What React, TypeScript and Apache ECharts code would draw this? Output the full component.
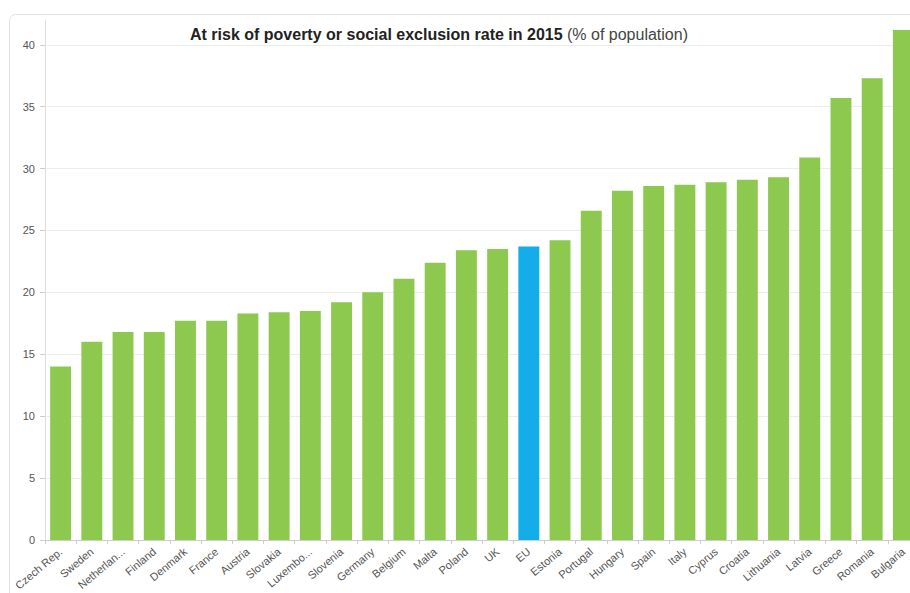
import React, { useEffect, useRef } from "react";
import * as echarts from "echarts";

const categories = [
  "Czech Rep.", "Sweden", "Netherlan...", "Finland", "Denmark", "France", "Austria",
  "Slovakia", "Luxembo...", "Slovenia", "Germany", "Belgium", "Malta", "Poland", "UK",
  "EU", "Estonia", "Portugal", "Hungary", "Spain", "Italy", "Cyprus", "Croatia",
  "Lithuania", "Latvia", "Greece", "Romania", "Bulgaria",
];
const values = [
  14.0, 16.0, 16.8, 16.8, 17.7, 17.7, 18.3, 18.4, 18.5, 19.2, 20.0, 21.1, 22.4, 23.4,
  23.5, 23.7, 24.2, 26.6, 28.2, 28.6, 28.7, 28.9, 29.1, 29.3, 30.9, 35.7, 37.3, 41.2,
];
const highlighted = "EU";
const titleBold = "At risk of poverty or social exclusion rate in 2015";
const titleNormal = " (% of population)";

export default function App() {
  const ref = useRef<HTMLDivElement>(null);
  useEffect(() => {
    if (!ref.current) return;
    const chart = echarts.init(ref.current, null, { renderer: "svg" });
    const font = "Liberation Sans, Arial, sans-serif";
    chart.setOption({
      animation: false,
      backgroundColor: "#ffffff",
      textStyle: { fontFamily: font },
      graphic: [
        {
          type: "rect",
          left: 7,
          top: 12,
          shape: { width: 960, height: 620, r: 6 },
          style: { fill: "none", stroke: "#e2e2e2", lineWidth: 1 },
          silent: true,
          z: -1,
        },
      ],
      title: {
        text: "{b|" + titleBold + "}{n|" + titleNormal + "}",
        left: 185,
        top: 21,
        textStyle: {
          rich: {
            b: { fontSize: 16, fontWeight: "bold", color: "#222", fontFamily: font },
            n: { fontSize: 16, fontWeight: "normal", color: "#444", fontFamily: font },
          },
        },
      },
      grid: { left: 45, top: 20, width: 874, height: 524, containLabel: false },
      xAxis: {
        type: "category",
        data: categories,
        axisLine: { lineStyle: { color: "#cccccc" } },
        axisTick: { show: true, alignWithLabel: false, length: 4, lineStyle: { color: "#cccccc" } },
        axisLabel: {
          interval: 0,
          rotate: 40,
          fontSize: 11,
          color: "#555",
          margin: 10,
        },
      },
      yAxis: {
        type: "value",
        min: 0,
        max: 42,
        interval: 5,
        axisLine: { show: true, lineStyle: { color: "#dddddd" } },
        axisTick: { show: true, length: 5, lineStyle: { color: "#cccccc" } },
        axisLabel: { fontSize: 11, color: "#555", margin: 10, showMaxLabel: false },
        splitLine: { show: true, showMaxLine: false, lineStyle: { color: "#ececec" } },
      },
      series: [
        {
          type: "bar",
          barWidth: "67%",
          data: values.map((v, i) => ({
            value: v,
            itemStyle: { color: categories[i] === highlighted ? "#13aeea" : "#8dc94e" },
          })),
        },
      ],
    });
    return () => chart.dispose();
  }, []);
  return (
    <div style={{ position: "absolute", left: 0, top: 0, width: 910, height: 593, overflow: "hidden" }}>
      <div ref={ref} style={{ width: 940, height: 593 }} />
    </div>
  );
}
